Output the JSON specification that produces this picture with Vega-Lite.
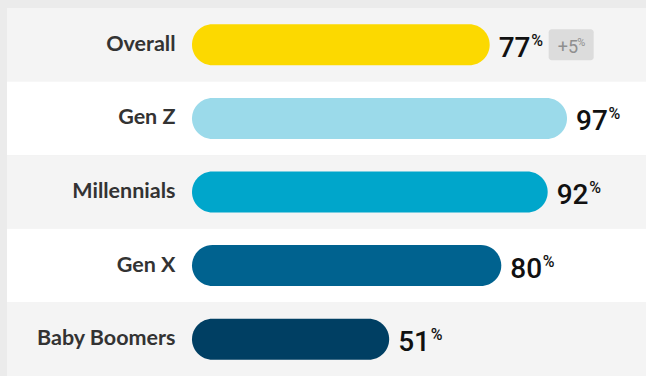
{
  "$schema": "https://vega.github.io/schema/vega-lite/v6.json",
  "autosize": {"type": "fit", "contains": "padding"},
  "width": 646,
  "height": 376,
  "padding": {"left": 7, "top": 8, "right": 0, "bottom": 0},
  "background": "#ebebeb",
  "config": {"view": {"stroke": null}},
  "data": {
    "values": [
      {"group": "Overall", "value": 77, "change": "+5"},
      {"group": "Gen Z", "value": 97, "change": null},
      {"group": "Millennials", "value": 92, "change": null},
      {"group": "Gen X", "value": 80, "change": null},
      {"group": "Baby Boomers", "value": 51, "change": null}
    ]
  },
  "encoding": {
    "y": {
      "field": "group",
      "type": "nominal",
      "sort": null,
      "scale": {"paddingInner": 0, "paddingOuter": 0},
      "axis": {
        "title": null,
        "offset": -168,
        "domain": false,
        "ticks": false,
        "labelPadding": 0,
        "labelFont": "Lato",
        "labelFontSize": 21.5,
        "labelFontWeight": "bold",
        "labelColor": "#333333",
        "zindex": 2
      }
    }
  },
  "layer": [
    {
      "mark": {"type": "rect"},
      "encoding": {
        "x": {"value": 0},
        "x2": {"value": "width"},
        "fill": {
          "field": "group",
          "type": "nominal",
          "sort": null,
          "scale": {
            "domain": ["Overall", "Gen Z", "Millennials", "Gen X", "Baby Boomers"],
            "range": ["#f4f4f4", "#ffffff", "#f4f4f4", "#ffffff", "#f4f4f4"]
          },
          "legend": null
        }
      }
    },
    {
      "mark": {"type": "bar", "size": 41, "cornerRadius": 20.5},
      "encoding": {
        "x": {
          "field": "value",
          "type": "quantitative",
          "scale": {"domain": [-47.85, 117.43], "nice": false, "zero": false},
          "axis": null
        },
        "x2": {"datum": 0},
        "color": {
          "field": "group",
          "type": "nominal",
          "sort": null,
          "scale": {
            "domain": ["Overall", "Gen Z", "Millennials", "Gen X", "Baby Boomers"],
            "range": ["#fcd900", "#9bdaea", "#00a6cb", "#00628f", "#003f63"]
          },
          "legend": null
        }
      }
    },
    {
      "transform": [{"filter": "datum.change != null"}],
      "mark": {
        "type": "point",
        "filled": true,
        "opacity": 1,
        "size": 4,
        "color": "#dcdcdc",
        "strokeWidth": 0,
        "shape": "M62,-15.5 H101 A3,3 0 0 1 104,-12.5 V12.5 A3,3 0 0 1 101,15.5 H62 A3,3 0 0 1 59,12.5 V-12.5 A3,3 0 0 1 62,-15.5 Z"
      },
      "encoding": {
        "x": {"field": "value", "type": "quantitative"}
      }
    },
    {
      "transform": [{"filter": "datum.change != null"}],
      "mark": {
        "type": "text",
        "align": "left",
        "baseline": "alphabetic",
        "dx": 68,
        "dy": 8,
        "font": "Roboto",
        "fontSize": 18,
        "color": "#8f8f8f"
      },
      "encoding": {
        "x": {"field": "value", "type": "quantitative"},
        "text": {"field": "change"}
      }
    },
    {
      "transform": [{"filter": "datum.change != null"}],
      "mark": {
        "type": "text",
        "align": "left",
        "baseline": "alphabetic",
        "dx": 87.5,
        "dy": 1,
        "font": "Roboto",
        "fontSize": 11,
        "color": "#8f8f8f",
        "text": "%"
      },
      "encoding": {
        "x": {"field": "value", "type": "quantitative"}
      }
    },
    {
      "mark": {
        "type": "text",
        "align": "left",
        "baseline": "alphabetic",
        "dx": 9,
        "dy": 12,
        "font": "Roboto",
        "fontSize": 28,
        "fontWeight": 500,
        "color": "#111111"
      },
      "encoding": {
        "x": {"field": "value", "type": "quantitative"},
        "text": {"field": "value", "type": "quantitative"}
      }
    },
    {
      "mark": {
        "type": "text",
        "align": "left",
        "baseline": "alphabetic",
        "dx": 41.5,
        "dy": 1,
        "font": "Roboto",
        "fontSize": 16,
        "fontWeight": 500,
        "color": "#111111",
        "text": "%"
      },
      "encoding": {
        "x": {"field": "value", "type": "quantitative"}
      }
    }
  ],
  "resolve": {"scale": {"color": "independent", "fill": "independent"}}
}
